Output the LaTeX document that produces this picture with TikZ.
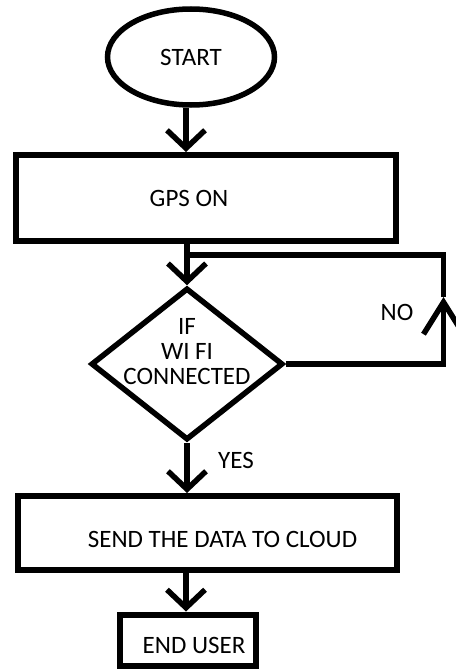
\documentclass[tikz,border=0pt]{standalone}
\usepackage{fontspec}
\setmainfont{Carlito}
\usetikzlibrary{arrows.meta,shapes.geometric}

\begin{document}
\begin{tikzpicture}[x=1pt,y=-1pt,->,>={Straight Barb[length=18pt,width=38pt]},line width=5.5pt,
  font=\fontsize{25}{25}\selectfont]

    \tikzstyle{terminal}=[ellipse,draw,line width=5.5pt,minimum width=167pt,minimum height=96pt,inner sep=0pt]
    \tikzstyle{process}=[rectangle,draw,line width=6pt,inner sep=0pt]
    \tikzstyle{decision}=[diamond,draw,line width=5.5pt,inner sep=0pt,minimum width=192pt,minimum height=152pt]

    \useasboundingbox (0,0) rectangle (455,669);

    \node[terminal] (start) at (191,57) {START};
    \node[process,minimum width=380pt,minimum height=86pt,
          label={[xshift=-17pt]center:GPS ON}] (gps) at (206,198) {};
    \node[decision,label={[yshift=12.5pt,align=center]center:IF\\WI FI\\CONNECTED}] (wifi) at (187,364) {};
    \node[process,minimum width=379pt,minimum height=74pt,
          label={[xshift=15.5pt,yshift=-6.5pt]center:SEND THE DATA TO CLOUD}] (send) at (207,533) {};
    \node[process,minimum width=136pt,minimum height=51pt,
          label={[xshift=6pt,yshift=-5pt]center:END USER}] (user) at (188,640) {};

    \node (no)  at (397,312) {NO};
    \node (yes) at (236,460) {YES};

    \coordinate (spine)  at (186,0);
    \coordinate (join)   at (187,255);
    \coordinate (loopup) at (443.5,297);

    \draw (start.south -| spine) -- (gps.north -| spine);
    \draw (gps.south -| wifi.north) -- (wifi.north);
    \draw[-{Straight Barb[length=32pt,width=40pt]}] (wifi.east) -| (loopup);
    \draw[-] (loopup) |- (join);
    \draw (wifi.south) -- (wifi.south |- send.north);
    \draw (send.south -| spine) -- (user.north -| spine);
\end{tikzpicture}
\end{document}
